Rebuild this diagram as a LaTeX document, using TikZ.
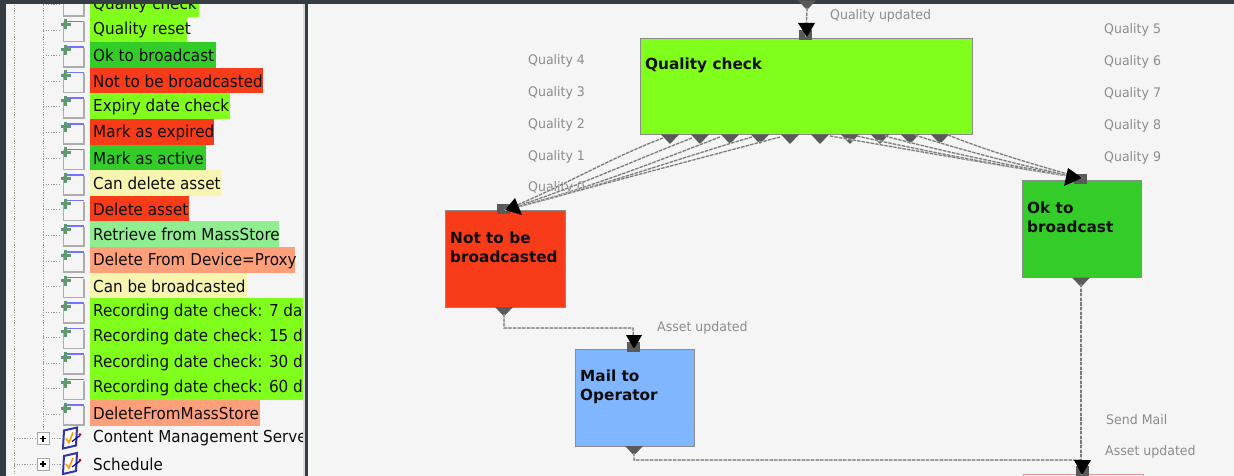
\documentclass[tikz,border=0pt]{standalone}
\usepackage{fontspec}
\setmainfont{DejaVu Sans}
\newfontfamily\treefont[FakeStretch=0.92]{DejaVu Sans}
\newfontfamily\labfont[FakeStretch=0.95]{DejaVu Sans}
\usetikzlibrary{arrows.meta}
\definecolor{panel}{HTML}{F5F5F5}
\definecolor{dark}{HTML}{343D42}
\definecolor{lime}{HTML}{80FF1C}
\definecolor{grn}{HTML}{33CC28}
\definecolor{rd}{HTML}{F83C1A}
\definecolor{pale}{HTML}{F7F5B0}
\definecolor{mint}{HTML}{90EE90}
\definecolor{salmon}{HTML}{FFA07A}
\definecolor{sky}{HTML}{7FB6FF}
\definecolor{port}{HTML}{5A5A5A}
\definecolor{lbl}{HTML}{8C8C8C}
\definecolor{plusc}{HTML}{5E9A6E}
\tikzset{
  x=1pt,y=-1pt,
  rowbg/.style={anchor=west,inner sep=0pt,minimum height=25.6pt},
  rowtext/.style={anchor=west,inner sep=0pt,font=\fontsize{16.5}{17}\treefont,text=black!95},
  box/.style={draw=black!45,line width=1.2pt,anchor=north west,inner sep=0pt},
  boxtext/.style={anchor=west,inner sep=0pt,align=left,font=\fontsize{15.3}{19}\selectfont\bfseries,text=black!95},
  lab/.style={anchor=west,inner sep=0pt,font=\fontsize{13.2}{14}\labfont,text=lbl},
  link/.style={draw=black!52,line width=1.2pt,dash pattern=on 3.2pt off 1.4pt,
     preaction={draw=black!15,solid,line width=1.5pt}},
  treedots/.style={draw=black!40,line width=1pt,dash pattern=on 1.2pt off 1.4pt},
}
\newcommand{\outport}[2]{\fill[port] (#1-9,#2-9.5) -- (#1+9,#2-9.5) -- (#1,#2) -- cycle;}
\newcommand{\inport}[2]{\fill[port] (#1-6.5,#2-5) rectangle (#1+6.5,#2+5);}
\begin{document}
\begin{tikzpicture}
\useasboundingbox (0,0) rectangle (1234,476);
\fill[panel] (0,0) rectangle (1234,476);
% tree guides
\draw[treedots] (14,0) -- (14,476);
\draw[treedots] (43,0) -- (43,431);
\begin{scope}
\clip (0,0) rectangle (303,476);
\foreach \n/\y/\t/\c/\w in {
 0/4/Quality check/lime/109,
 1/29.5/Quality reset/lime/97,
 2/55/Ok to broadcast/grn/126,
 3/80.5/Not to be broadcasted/rd/173,
 4/106/Expiry date check/lime/140,
 5/132/Mark as expired/rd/124,
 6/157.5/Mark as active/grn/116,
 7/183/Can delete asset/pale/131,
 8/208.5/Delete asset/rd/99,
 9/234/Retrieve from MassStore/mint/189,
 10/260/Delete From Device=Proxy/salmon/205,
 11/285.5/Can be broadcasted/pale/157,
 12/311/Recording date check: 7 days/lime/220,
 13/336.5/Recording date check: 15 days/lime/220,
 14/362/Recording date check: 30 days/lime/220,
 15/387.5/Recording date check: 60 days/lime/220,
 16/413/DeleteFromMassStore/salmon/170}{
  \node[rowbg,fill=\c,minimum width=\w pt] (bg\n) at (90,\y) {};
  \node[rowtext] (row\n) at (93,\y+0.5) {\t};
  \draw[treedots] (43,\y+1) -- (60,\y+1);
  \fill[black!4] (63,\y-8) rectangle (84,\y+12);
  \draw[black!32,line width=1.3pt] (63.5,\y-7) -- (63.5,\y+12) -- (84,\y+12) -- (84,\y-7);
  \draw[blue!55!white,line width=1.1pt] (66,\y-8) -- (84,\y-8);
  \draw[plusc,line width=3pt] (60.5,\y-5) -- (70.5,\y-5) (65.5,\y-10) -- (65.5,\y);
}
\node[rowtext] (cms) at (93,438.5) {Content Management Server};
\node[rowtext] (sched) at (93,464) {Schedule};
\end{scope}
\foreach \y in {438.5,464}{
  \draw[treedots] (14,\y) -- (37,\y) (49,\y) -- (62,\y);
  \fill[white] (37,\y-6) rectangle (49,\y+6);
  \draw[black!35,line width=1pt] (37,\y-6) rectangle (49,\y+6);
  \draw[black,line width=1.1pt] (40,\y) -- (46,\y) (43,\y-3) -- (43,\y+3);
  \draw[blue!60!black!80!white,line width=2pt,fill=white] (64,\y-8) -- (77,\y-11) -- (76,\y+7) -- (63,\y+10) -- cycle;
  \draw[orange!80!yellow,line width=1.6pt] (66,\y) -- (69,\y+4) -- (73,\y-6);
  \draw[blue!60!black,line width=1.2pt] (72,\y+3) -- (80,\y-3);
  \fill[red!70!black] (80,\y-4) circle (1.5);
}
% panel frame
\fill[dark] (0,0) rectangle (1234,4);
\fill[dark] (0,0) rectangle (6,476);
\fill[white!85!black] (303,4) rectangle (305,476);
\fill[dark] (305,0) rectangle (308,476);
% boxes
\node[box,fill=lime,minimum width=332pt,minimum height=96pt] (qc) at (640,38) {};
\node[box,fill=rd,minimum width=120pt,minimum height=97pt] (nb) at (445,210) {};
\node[box,fill=grn,minimum width=119pt,minimum height=97pt] (ok) at (1022,180) {};
\node[box,fill=sky,minimum width=119pt,minimum height=97pt] (mail) at (575,349) {};
\node[box,draw=black!40!red!40,fill=panel,minimum width=120pt,minimum height=20pt] (last) at (1023,474) {};
\node[boxtext] (qct) at (645,65) {Quality check};
\node[boxtext] (nbt) at (450,247.5) {Not to be\\broadcasted};
\node[boxtext] (okt) at (1027,217.5) {Ok to\\broadcast};
\node[boxtext] (mailt) at (580,386.5) {Mail to\\Operator};
% labels
\foreach \n/\y in {4/60.5,3/92.5,2/124.5,1/156.5,0/187.5} \node[lab] (ql\n) at (528,\y) {Quality \n};
\foreach \n/\y in {5/29.5,6/61.5,7/93.5,8/125.5,9/157.5} \node[lab] (ql\n) at (1104,\y) {Quality \n};
\node[lab] (qu) at (830,15.5) {Quality updated};
\node[lab] (au1) at (657,327.5) {Asset updated};
\node[lab] (sm) at (1106,419.5) {Send Mail};
\node[lab] (au2) at (1105,451.5) {Asset updated};
% ports
\foreach \n/\x in {0/670,1/700,2/730,3/760,4/790,5/820,6/850,7/880,8/910,9/940}{
  \outport{\x}{144}
}
\coordinate (o0) at (663,138);
\coordinate (o1) at (692,138);
\coordinate (o2) at (720,137);
\coordinate (o3) at (752,137);
\coordinate (o4) at (780,137);
\coordinate (o5) at (830,136);
\coordinate (o6) at (857,136);
\coordinate (o7) at (885,136);
\coordinate (o8) at (915,135);
\coordinate (o9) at (948,135);
\outport{807}{10} \coordinate (top) at (807,8);
\outport{504}{316.5} \coordinate (onb) at (504,314);
\outport{1081}{287} \coordinate (ook) at (1081,284);
\outport{634}{455.5} \coordinate (omail) at (634,453);
\inport{805}{35} \coordinate (iqc) at (806,37);
\inport{503.5}{208.5} \coordinate (inb) at (505,210);
\inport{1080}{178.5} \coordinate (iok) at (1082,178);
\inport{633}{347} \coordinate (imail) at (634,349);
\inport{1082}{471} \coordinate (ilast) at (1082,475);
% connectors
\draw[link] (o0) .. controls (610,158) and (560,188) .. (inb);
\draw[link] (o1) .. controls (630,162) and (570,190) .. (inb);
\draw[link] (o2) .. controls (660,160) and (580,192) .. (inb);
\draw[link] (o3) .. controls (680,158) and (590,190) .. (inb);
\draw[link] (o4) .. controls (700,158) and (600,185) .. (inb);
\draw[link] (o5) .. controls (900,148) and (1000,166) .. (iok);
\draw[link] (o6) .. controls (920,150) and (1010,168) .. (iok);
\draw[link] (o7) .. controls (940,151) and (1020,168) .. (iok);
\draw[link] (o8) .. controls (960,150) and (1030,168) .. (iok);
\draw[link] (o9) .. controls (985,150) and (1035,165) .. (iok);
\draw[link] (top) -- (iqc);
\draw[link] (onb) -- (504,328) -- (633,328) -- (imail);
\draw[link] (omail) -- (634,460) -- (1081,460) -- (ilast);
\draw[link] (ook) -- (1081,460);
% arrowheads
\fill[black] (798,23) -- (815,23) -- (807,37) -- cycle;
\fill[black] (515,198) -- (522,215) -- (505,210) -- cycle;
\fill[black] (1068,168) -- (1064,186) -- (1082,178) -- cycle;
\fill[black] (626,335) -- (642,335) -- (634,349) -- cycle;
\fill[black] (1074,460) -- (1091,460) -- (1082,475) -- cycle;
\end{tikzpicture}
\end{document}
